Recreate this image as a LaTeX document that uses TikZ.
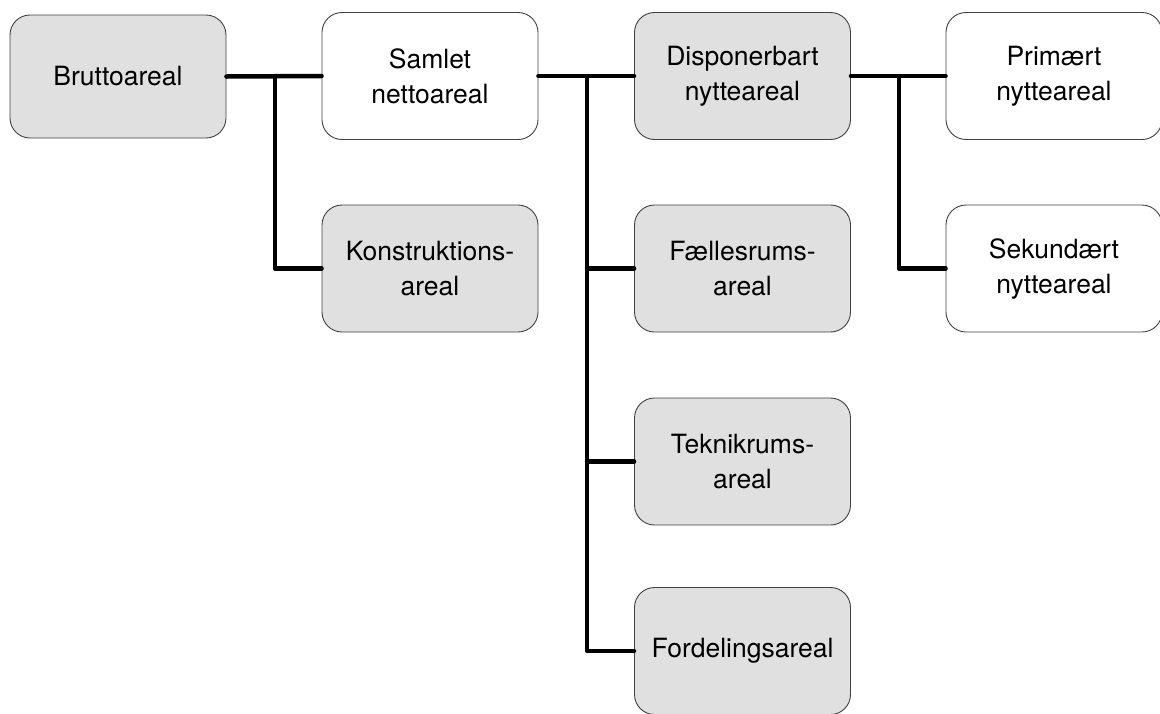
\documentclass[tikz,border=0pt]{standalone}
\usepackage{fontspec}
\setmainfont{TeX Gyre Heros}
\begin{document}
\begin{tikzpicture}[x=1pt,y=-1pt,
  box/.style={draw=black!75, line width=0.9pt, rounded corners=20pt, minimum width=216pt, minimum height=127pt, align=center, inner sep=0pt, font=\fontsize{26.5}{35}\selectfont},
  grey/.style={box, fill=black!12},
  white/.style={box, fill=white},
  conn/.style={line width=4.5pt, line cap=round, line join=round}]
\useasboundingbox (0,0) rectangle (1160,713);
\node[grey, minimum height=123pt]  (brutto) at (118,76.5) {Bruttoareal};
\node[white] (samlet) at (430,76) {Samlet\\nettoareal};
\node[grey]  (dispon) at (742.5,76) {Disponerbart\\nytteareal};
\node[white] (primaert) at (1054,76) {Primært\\nytteareal};
\node[grey]  (konstr) at (430,268.5) {Konstruktions-\\areal};
\node[grey]  (faelles) at (742.5,268.5) {Fællesrums-\\areal};
\node[grey]  (teknik) at (742.5,461.5) {Teknikrums-\\areal};
\node[grey]  (fordel) at (742.5,651) {Fordelingsareal};
\node[white] (sekund) at (1054,268.5) {Sekundært\\nytteareal};
\coordinate (t1) at (275,77);
\coordinate (t2) at (587,77);
\coordinate (t3) at (899,77);
\draw[conn] (brutto.east) -- (samlet.west);
\draw[conn] (t1) |- (konstr.west);
\draw[conn] (samlet.east) -- (dispon.west);
\draw[conn] (t2) |- (fordel.west);
\draw[conn] (t2 |- faelles.west) -- (faelles.west);
\draw[conn] (t2 |- teknik.west) -- (teknik.west);
\draw[conn] (dispon.east) -- (primaert.west);
\draw[conn] (t3) |- (sekund.west);
\end{tikzpicture}
\end{document}
